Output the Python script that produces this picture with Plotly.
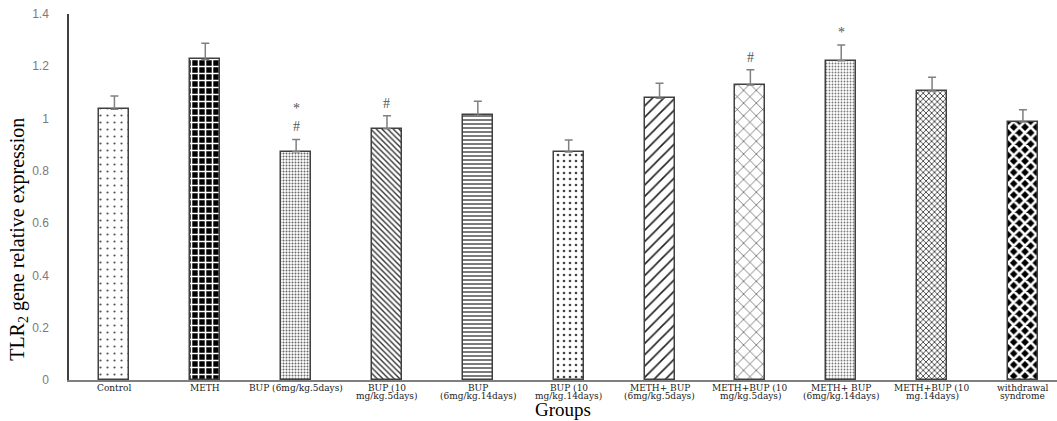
import plotly.graph_objects as go

label_line1 = ["Control", "METH", "BUP (6mg/kg.5days)", "BUP (10", "BUP", "BUP (10",
               "METH+ BUP", "METH+BUP (10", "METH+ BUP", "METH+BUP (10", "withdrawal"]
label_line2 = ["", "", "", "mg/kg.5days)", "(6mg/kg.14days)", "mg/kg.14days)",
               "(6mg/kg.5days)", "mg/kg.5days)", "(6mg/kg.14days)", "mg.14days)", "syndrome"]
values = [1.036, 1.226, 0.873, 0.961, 1.012, 0.872, 1.078, 1.128, 1.221, 1.105, 0.987]
errors = [0.050, 0.062, 0.047, 0.050, 0.054, 0.046, 0.057, 0.059, 0.060, 0.053, 0.047]
marks = ["", "", "*<br>#", "#", "", "", "", "#", "*", "", ""]
y_ticks = [0, 0.2, 0.4, 0.6, 0.8, 1.0, 1.2, 1.4]
y_ticktext = ["0", "0.2", "0.4", "0.6", "0.8", "1", "1.2", "1.4"]

# pattern styles per bar: (shape, size, solidity, fgcolor, bgcolor)
patterns = [
    (".", 7, 0.08, "#555555", "white"),
    ("+", 7, 0.4, "white", "black"),
    (".", 3, 0.35, "#666666", "white"),
    ("\\", 4, 0.35, "#333333", "white"),
    ("-", 4, 0.35, "#444444", "white"),
    (".", 6, 0.15, "#444444", "white"),
    ("/", 8, 0.2, "#222222", "white"),
    ("x", 9, 0.12, "#222222", "white"),
    (".", 3, 0.3, "#777777", "white"),
    ("x", 4, 0.35, "#222222", "white"),
    ("x", 8, 0.55, "white", "black"),
]

x = list(range(len(values)))
fig = go.Figure()
for i in x:
    shp, sz, sol, fg, bg = patterns[i]
    fig.add_trace(go.Bar(
        x=[i], y=[values[i]], width=0.33,
        marker=dict(color=bg, line=dict(color="#404040", width=1.5),
                    pattern=dict(shape=shp, size=sz, solidity=sol, fgcolor=fg, bgcolor=bg,
                                 fillmode="replace")),
        error_y=dict(type="data", array=[errors[i]], arrayminus=[0], symmetric=False,
                     color="#808080", thickness=1.5, width=4),
        showlegend=False, hoverinfo="skip",
    ))

for i in x:
    if marks[i]:
        fig.add_annotation(x=i, y=values[i] + errors[i], text=marks[i], showarrow=False,
                           yanchor="bottom", yshift=3,
                           font=dict(family="Liberation Serif", size=14, color="#555555"))
    # category labels (two tight lines)
    for line, shift in ((label_line1[i], -8), (label_line2[i], -15.5)):
        if line:
            fig.add_annotation(x=i, y=0, yref="y", text=line, showarrow=False,
                               yanchor="middle", xanchor="center", yshift=shift, borderpad=0,
                               font=dict(family="DejaVu Serif", size=9, color="#222222"))

# axis titles as annotations for exact placement
fig.add_annotation(xref="paper", yref="paper", x=0.5, y=0, yshift=-41, yanchor="bottom",
                   xanchor="center", text="Groups", showarrow=False, borderpad=0,
                   font=dict(family="Liberation Serif", size=19, color="black"))
fig.add_annotation(xref="paper", yref="paper", x=0, xshift=-50, y=0.383, xanchor="center",
                   yanchor="middle", textangle=-90, showarrow=False,
                   text="TLR<sub>2</sub> gene relative expression",
                   font=dict(family="Liberation Serif", size=20, color="black"))

fig.update_layout(
    width=1057, height=421,
    margin=dict(l=68.5, r=0, t=14, b=41, autoexpand=False),
    paper_bgcolor="white", plot_bgcolor="white",
    bargap=0,
)
fig.update_xaxes(
    range=[-0.5, 10.375], tickmode="array", tickvals=x, showticklabels=False,
    showline=True, linecolor="#7f7f7f", linewidth=1.5, ticks="", automargin=False,
    showgrid=False, zeroline=False,
)
fig.update_yaxes(
    range=[0, 1.4], tickvals=y_ticks, ticktext=y_ticktext,
    showline=True, linecolor="#404040", linewidth=1.5, ticks="", automargin=False,
    ticklabelstandoff=16,
    tickfont=dict(family="Liberation Sans", size=12, color="#7a7a7a"),
    showgrid=False, zeroline=False,
)

fig.write_html("out.html", config={"displayModeBar": False},
               post_script="document.body.style.margin='0';")
